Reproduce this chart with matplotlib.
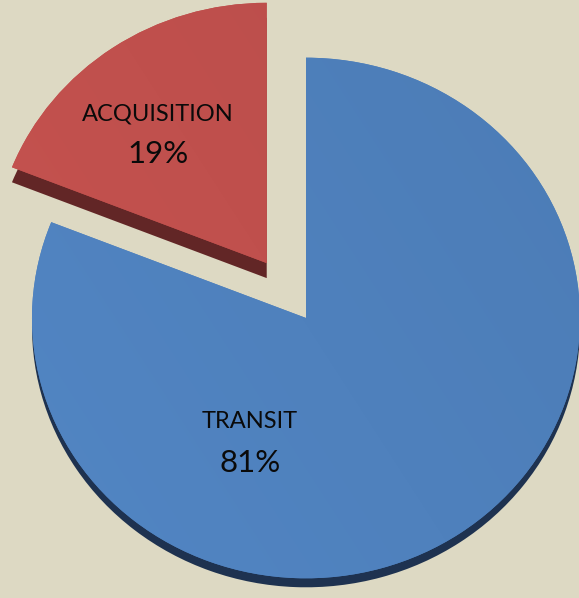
import matplotlib
matplotlib.use("Agg")
import matplotlib.pyplot as plt
import numpy as np

# slice data
labels = ["ACQUISITION", "TRANSIT"]
shares = [19, 81]
explode = [0.255, 0.0]      # fraction of the radius
top_colors = ["#C0504D", "#4F81BD"]
side_colors = ["#622626", "#1E3250"]
depth_px = [15, 9]

W, H = 579, 598
tilt = 0.95          # vertical squash of the pie top
cx, cy = 306, (H - 318) / tilt
radius = 274
# label anchors (pixels from top-left): name baseline, value baseline
label_x = [158, 250]
name_y = [121, 428]
value_y = [163, 472]

plt.rcParams["font.family"] = ["Lato", "DejaVu Sans"]

fig = plt.figure(figsize=(W / 100, H / 100), dpi=100)
fig.patch.set_facecolor("#DDD9C3")
ax = fig.add_axes([0, 0, 1, 1])

offsets = [e * radius for e in explode]

# side faces: same pie pushed down, dark colours
sides, _ = ax.pie(shares, explode=offsets, colors=side_colors, startangle=90,
                  radius=radius, center=(cx, cy - depth_px[1] / tilt), frame=True,
                  wedgeprops=dict(linewidth=0))
for w, d in zip(sides, depth_px):
    x0, y0 = w.center
    w.set_center((x0, y0 - (d - depth_px[1]) / tilt))
    w.set_zorder(1)

# top faces
tops, _ = ax.pie(shares, explode=offsets, colors=top_colors, startangle=90,
                 radius=radius, center=(cx, cy), frame=True,
                 wedgeprops=dict(linewidth=0))

# soft shading on the top faces
gx = np.linspace(0, 1, 256)
gy = np.linspace(0, 1, 256)
GX, GY = np.meshgrid(gx, gy)
shade = 0.6 * GX + 0.4 * (1 - GY)
for w, c in zip(tops, top_colors):
    w.set_zorder(2)
    base = np.array(matplotlib.colors.to_rgb(c))
    img = base[None, None, :] * (1.04 - 0.08 * shade[..., None])
    im = ax.imshow(np.clip(img, 0, 1), extent=(0, W, 0, H / tilt), origin="upper",
                   zorder=3, interpolation="bilinear", aspect="auto")
    im.set_clip_path(w)

for lab, v, x, yn, yv in zip(labels, shares, label_x, name_y, value_y):
    ax.text(x, (H - yn) / tilt, lab, ha="center", va="baseline", fontsize=17,
            color="#0A0A0A", zorder=5)
    ax.text(x, (H - yv) / tilt, f"{v}%", ha="center", va="baseline", fontsize=22.5,
            color="#0A0A0A", zorder=5)

ax.set_aspect("auto")
ax.set_xlim(0, W)
ax.set_ylim(0, H / tilt)
ax.axis("off")

fig.savefig("out.png", dpi=100, facecolor=fig.get_facecolor())
